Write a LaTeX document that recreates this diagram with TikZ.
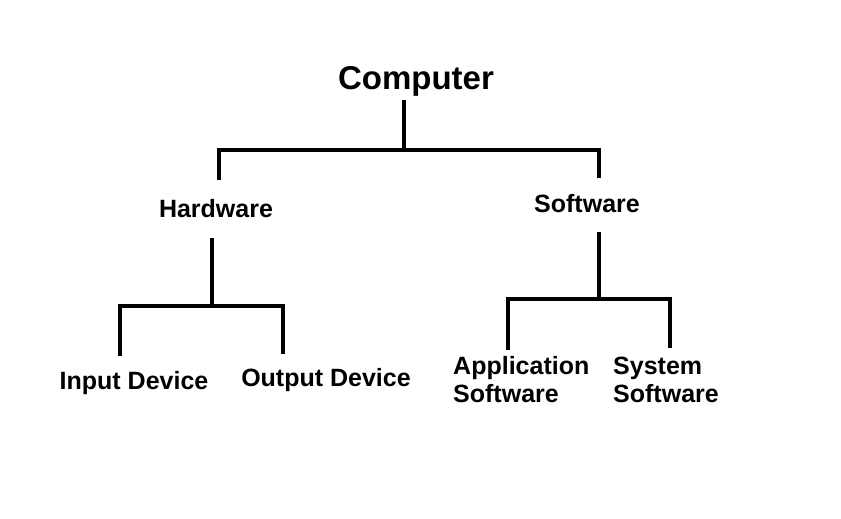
\documentclass[tikz,border=0pt]{standalone}
\usepackage{fontspec}
\setmainfont{Liberation Sans}
\begin{document}
\begin{tikzpicture}[x=1pt,y=-1pt,
  lbl/.style={font=\fontsize{25}{28}\selectfont\bfseries, inner sep=0pt},
  ln/.style={line width=4pt}]
\useasboundingbox[fill=white] (0,0) rectangle (841,519);
\node[lbl,font=\fontsize{33}{36}\selectfont\bfseries] (comp) at (416,81) {Computer};
\node[lbl] (hw) at (216,209) {Hardware};
\node[lbl] (sw) at (587,204) {Software};
\node[lbl] (in) at (134,383) {Input Device};
\node[lbl] (out) at (326,380) {Output Device};
\node[lbl,align=left,anchor=west] (app) at (453,380) {Application\\Software};
\node[lbl,align=left,anchor=west] (sys) at (613,380) {System\\Software};
\coordinate (c1) at (404,100); \coordinate (c2) at (404,150);
\coordinate (h1) at (219,180); \coordinate (s1) at (599,178);
\draw[ln] (c1) -- (c2);
\draw[ln] (h1) -- (219,150) -- (599,150) -- (s1);
\coordinate (h2) at (212,238); \coordinate (h3) at (212,306);
\draw[ln] (h2) -- (h3);
\draw[ln] (120,356) -- (120,306) -- (283,306) -- (283,354);
\coordinate (s2) at (599,232); \coordinate (s3) at (599,299);
\draw[ln] (s2) -- (s3);
\draw[ln] (508,350) -- (508,299) -- (670,299) -- (670,348);
\end{tikzpicture}
\end{document}
